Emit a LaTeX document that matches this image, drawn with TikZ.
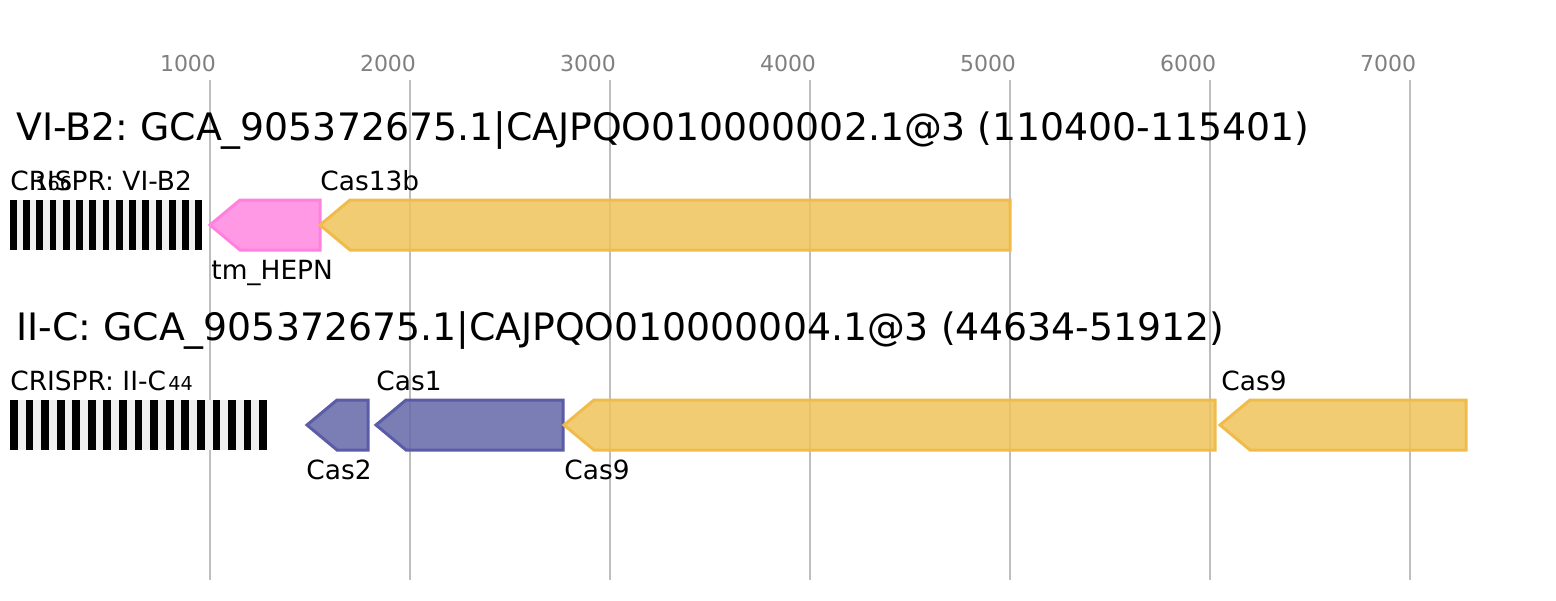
\documentclass[tikz,border=0pt]{standalone}
\usepackage{fontspec}
\setmainfont{DejaVu Sans}
\definecolor{gridgray}{RGB}{190,190,190}
\definecolor{tickgray}{RGB}{128,128,128}
\definecolor{spacergray}{RGB}{239,239,239}
\definecolor{hepnfill}{RGB}{255,135,226}
\definecolor{hepnline}{RGB}{255,128,222}
\definecolor{casfill}{RGB}{240,195,90}
\definecolor{casline}{RGB}{239,188,76}
\definecolor{adafill}{RGB}{100,102,168}
\definecolor{adaline}{RGB}{90,92,166}
\begin{document}
\frenchspacing
\begin{tikzpicture}[x=0.5pt, y=-0.5pt,
    grid/.style = {draw=gridgray, line width=1pt},
    tick/.style = {text=tickgray, font=\fontsize{11}{13}\selectfont, inner sep=0, anchor=base},
    title/.style = {font=\fontsize{18.9}{22}\selectfont, inner sep=0, anchor=base west},
    lab/.style = {font=\fontsize{13.2}{15}\selectfont, inner sep=0, anchor=base west},
    num/.style = {font=\fontsize{9.6}{11}\selectfont, inner sep=0, anchor=base west},
    gene/.style = {line width=1.5pt, line join=miter, fill opacity=0.85},
    hepn/.style = {gene, draw=hepnline, fill=hepnfill},
    cas/.style = {gene, draw=casline, fill=casfill},
    ada/.style = {gene, draw=adaline, fill=adafill}]
    \useasboundingbox (0,0) rectangle (1556,600);

    % Axe
    \foreach \k in {1,...,7} {
        \draw[grid] (200*\k+10,80) -- (200*\k+10,580);
        \node[tick] (t\k) at (200*\k-12,71) {\k000};
    }

    % Titres
    \node[title] (title1) at (16,140) {VI-B2: GCA\_905372675.1|CAJPQO010000002.1@3 (110400-115401)};
    \node[title] (title2) at (16,340) {II-C: GCA\_905372675.1|CAJPQO010000004.1@3 (44634-51912)};

    % CRISPR
    \fill[spacergray] (10,200) rectangle (202,250);
    \foreach \i in {0,...,14}
        \fill[black] (10+13.24*\i,200) rectangle ++(6.62,50);
    \fill[spacergray] (10,400) rectangle (267,450);
    \foreach \i in {0,...,16}
        \fill[black] (10+15.58*\i,400) rectangle ++(7.79,50);

    % Genes
    \draw[hepn] (320,200) -- (240,200) -- (210,225) -- (240,250) -- (320,250) -- cycle;
    \draw[cas] (1010,200) -- (350,200) -- (320,225) -- (350,250) -- (1010,250) -- cycle;

    \draw[ada] (368,400) -- (337,400) -- (307,425) -- (337,450) -- (368,450) -- cycle;
    \draw[ada] (563,400) -- (406,400) -- (376,425) -- (406,450) -- (563,450) -- cycle;
    \draw[cas] (1215,400) -- (594,400) -- (564,425) -- (594,450) -- (1215,450) -- cycle;
    \draw[cas] (1466,400) -- (1250,400) -- (1220,425) -- (1250,450) -- (1466,450) -- cycle;

    % Etiquettes
    \node[lab] (crispr1) at (10,190) {CRISPR: VI-B2};
    \node[num] (n1) at (35,190) {166};
    \node[lab] (cas13b) at (320,190) {Cas13b};
    \node[lab] (hepn) at (211,279) {tm\_HEPN};

    \node[lab] (crispr2) at (10,390) {CRISPR: II-C};
    \node[num] (n2) at (168,390) {44};
    \node[lab] (cas1) at (376,390) {Cas1};
    \node[lab] (cas2) at (306,479) {Cas2};
    \node[lab] (cas9a) at (564,479) {Cas9};
    \node[lab] (cas9b) at (1221,390) {Cas9};
\end{tikzpicture}
\end{document}
